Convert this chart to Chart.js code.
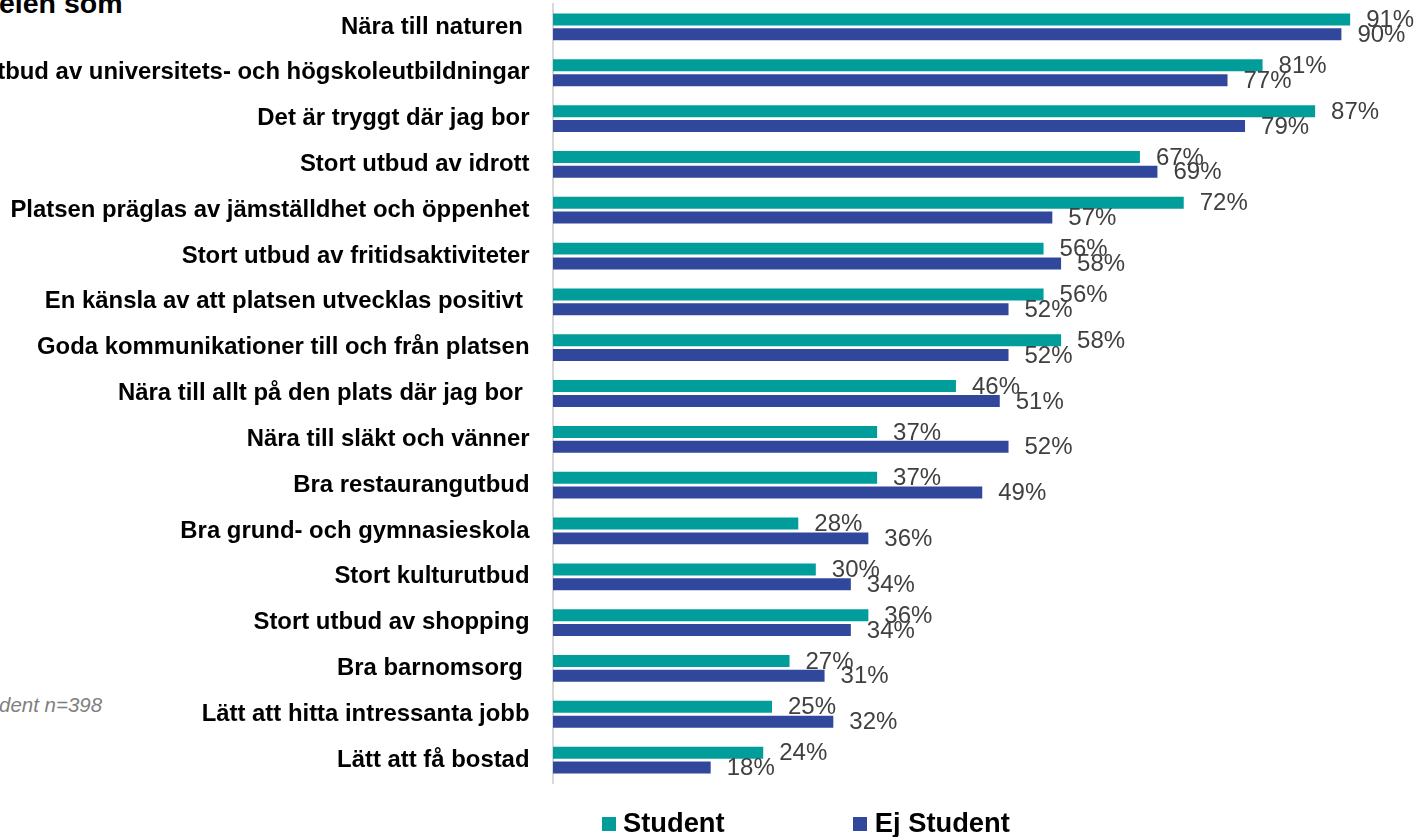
<!DOCTYPE html>
<html>
<head>
<meta charset="utf-8">
<script src="https://cdn.jsdelivr.net/npm/chart.js@4"></script>
<style>
  html, body { margin: 0; padding: 0; width: 1417px; height: 837px; overflow: hidden; background: #ffffff; }
  body { position: relative; font-family: "Liberation Sans", Arial, sans-serif; }
  #wrap { position: absolute; left: -120px; top: 0; width: 1549px; height: 837px; }
  #title { position: absolute; left: -1px; top: -11.5px; font-size: 28.5px; font-weight: bold; line-height: 28px; color: #000; white-space: nowrap; }
  #note { position: absolute; left: -1px; top: 695px; font-size: 20.5px; font-style: italic; line-height: 20px; color: #7f7f7f; white-space: nowrap; }
  .lg-box { position: absolute; width: 14px; height: 14px; top: 817px; }
  .lg-text { position: absolute; top: 809px; font-size: 27.3px; font-weight: bold; line-height: 27px; color: #000; white-space: nowrap; }
</style>
</head>
<body>
<div id="title">elen som</div>
<div id="note">dent n=398</div>
<div id="wrap"><canvas id="c" width="1549" height="837"></canvas></div>
<div id="legend"></div>
<script>
const categories = [
  "Nära till naturen ",
  "Stort utbud av universitets- och högskoleutbildningar",
  "Det är tryggt där jag bor",
  "Stort utbud av idrott",
  "Platsen präglas av jämställdhet och öppenhet",
  "Stort utbud av fritidsaktiviteter",
  "En känsla av att platsen utvecklas positivt ",
  "Goda kommunikationer till och från platsen",
  "Nära till allt på den plats där jag bor ",
  "Nära till släkt och vänner",
  "Bra restaurangutbud",
  "Bra grund- och gymnasieskola",
  "Stort kulturutbud",
  "Stort utbud av shopping",
  "Bra barnomsorg ",
  "Lätt att hitta intressanta jobb",
  "Lätt att få bostad"
];
const studentValues   = [91, 81, 87, 67, 72, 56, 56, 58, 46, 37, 37, 28, 30, 36, 27, 25, 24];
const ejStudentValues = [90, 77, 79, 69, 57, 58, 52, 52, 51, 52, 49, 36, 34, 34, 31, 32, 18];
const seriesNames = ["Student", "Ej Student"];
const seriesColors = ["#009d9a", "#30479b"];

Chart.defaults.font.family = '"Liberation Sans", Arial, sans-serif';

const valueLabels = {
  id: 'valueLabels',
  afterDatasetsDraw(chart) {
    const ctx = chart.ctx;
    ctx.save();
    ctx.font = '24px "Liberation Sans", Arial, sans-serif';
    ctx.fillStyle = '#404040';
    ctx.textAlign = 'left';
    ctx.textBaseline = 'middle';
    chart.data.datasets.forEach((ds, di) => {
      const meta = chart.getDatasetMeta(di);
      meta.data.forEach((el, i) => {
        ctx.fillText(ds.data[i] + '%', el.x + 16, el.y + 1);
      });
    });
    ctx.restore();
  }
};

const chart = new Chart(document.getElementById('c'), {
  type: 'bar',
  data: {
    labels: categories,
    datasets: [
      { label: seriesNames[0], data: studentValues, backgroundColor: seriesColors[0], borderWidth: 0 },
      { label: seriesNames[1], data: ejStudentValues, backgroundColor: seriesColors[1], borderWidth: 0 }
    ]
  },
  options: {
    indexAxis: 'y',
    responsive: false,
    animation: false,
    devicePixelRatio: 1,
    categoryPercentage: 0.646,
    barPercentage: 0.81,
    layout: { padding: { top: 4, bottom: 54, left: 0, right: 0 } },
    plugins: {
      legend: { display: false },
      tooltip: { enabled: false }
    },
    scales: {
      x: { display: false, min: 0, max: 100 },
      y: {
        grid: { display: false },
        border: { display: true, color: '#d9d9d9', width: 2 },
        ticks: {
          autoSkip: false,
          padding: 15.5,
          color: '#000000',
          font: { size: 23.9, weight: 'bold' }
        },
        afterFit(scale) {
          scale.width = 673;
          scale.paddingTop = 0;
          scale.paddingBottom = 0;
        }
      }
    }
  },
  plugins: [valueLabels]
});

// HTML legend built from the chart's datasets
const legendLeft = [601.5, 853.3];
const legendEl = document.getElementById('legend');
chart.data.datasets.forEach((ds, i) => {
  const box = document.createElement('div');
  box.className = 'lg-box';
  box.style.left = legendLeft[i] + 'px';
  box.style.background = ds.backgroundColor;
  const txt = document.createElement('div');
  txt.className = 'lg-text';
  txt.style.left = (legendLeft[i] + 21.5) + 'px';
  txt.textContent = ds.label;
  legendEl.appendChild(box);
  legendEl.appendChild(txt);
});
</script>
</body>
</html>
